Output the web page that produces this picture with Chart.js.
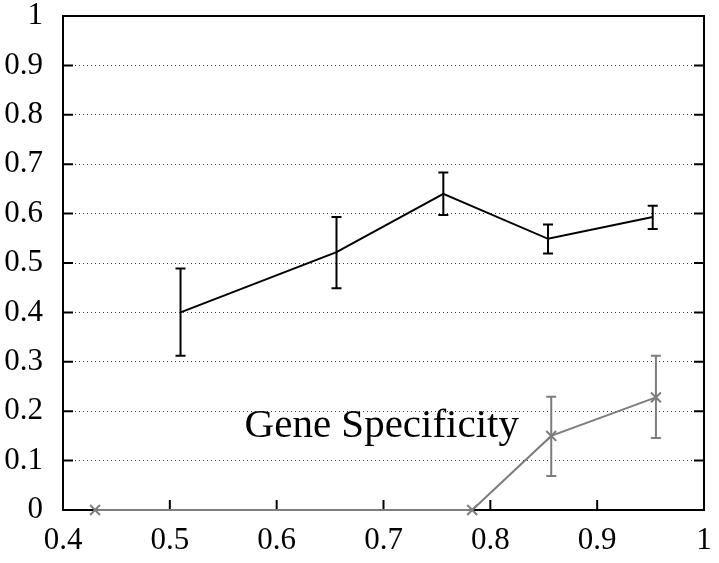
<!DOCTYPE html>
<html>
<head>
<meta charset="utf-8">
<script src="https://cdn.jsdelivr.net/npm/chart.js@4"></script>
<style>
  body { margin: 0; background: #fff; }
  canvas { display: block; }
</style>
</head>
<body>
<canvas id="chart" width="719" height="563"></canvas>
<script>
// black series
const blackX = [0.51, 0.656, 0.756, 0.854, 0.952];
const blackY = [0.40, 0.522, 0.640, 0.549, 0.593];
const blackLow = [0.312, 0.449, 0.597, 0.519, 0.569];
const blackHigh = [0.489, 0.593, 0.683, 0.578, 0.616];

// grey series (Gene Specificity)
const greyX = [0.43, 0.783, 0.857, 0.955];
const greyY = [0, 0, 0.150, 0.228];
const greyLow = [null, null, 0.069, 0.146];
const greyHigh = [null, null, 0.229, 0.312];

const seriesLabel = 'Gene Specificity';

const serif = '"Liberation Serif", "DejaVu Serif", serif';
const grey = '#7d7d7d';

const toPoints = (xs, ys) => xs.map((x, i) => ({ x: x, y: ys[i] }));
const fmt = (v) => String(Number(v.toFixed(1)));

// frame + inward ticks go under the lines, error bars and label on top
const extras = {
  id: 'extras',
  beforeDatasetsDraw(chart) {
    const ctx = chart.ctx;
    const xs = chart.scales.x;
    const ys = chart.scales.y;
    const area = chart.chartArea;
    ctx.save();
    ctx.strokeStyle = '#000';
    ctx.lineWidth = 2;
    ctx.beginPath();
    xs.ticks.forEach((t) => {
      const px = xs.getPixelForValue(t.value);
      ctx.moveTo(px, area.bottom); ctx.lineTo(px, area.bottom - 10);
    });
    ys.ticks.forEach((t) => {
      const py = ys.getPixelForValue(t.value);
      ctx.moveTo(area.left, py); ctx.lineTo(area.left + 10, py);
      ctx.moveTo(area.right, py); ctx.lineTo(area.right - 10, py);
    });
    ctx.stroke();
    ctx.strokeRect(area.left, area.top, area.right - area.left, area.bottom - area.top);
    ctx.restore();
  },
  afterDatasetsDraw(chart) {
    const ctx = chart.ctx;
    const xs = chart.scales.x;
    const ys = chart.scales.y;

    const bars = (xv, lo, hi, color) => {
      ctx.save();
      ctx.strokeStyle = color;
      ctx.lineWidth = 2;
      xv.forEach((x, i) => {
        if (lo[i] == null) return;
        const px = xs.getPixelForValue(x);
        const top = ys.getPixelForValue(hi[i]);
        const bot = ys.getPixelForValue(lo[i]);
        ctx.beginPath();
        ctx.moveTo(px, top); ctx.lineTo(px, bot);
        ctx.moveTo(px - 5, top); ctx.lineTo(px + 5, top);
        ctx.moveTo(px - 5, bot); ctx.lineTo(px + 5, bot);
        ctx.stroke();
      });
      ctx.restore();
    };
    bars(blackX, blackLow, blackHigh, '#000');
    bars(greyX, greyLow, greyHigh, grey);

    ctx.save();
    ctx.fillStyle = '#000';
    ctx.font = '41px ' + serif;
    ctx.textBaseline = 'alphabetic';
    ctx.fillText(seriesLabel, xs.getPixelForValue(0.57), ys.getPixelForValue(0.148));
    ctx.restore();
  }
};

new Chart(document.getElementById('chart'), {
  type: 'line',
  data: {
    datasets: [
      {
        label: 'black',
        data: toPoints(blackX, blackY),
        borderColor: '#000',
        borderWidth: 2,
        pointRadius: 0,
        tension: 0,
        clip: false,
      },
      {
        label: seriesLabel,
        data: toPoints(greyX, greyY),
        borderColor: grey,
        borderWidth: 2,
        pointStyle: 'crossRot',
        pointRadius: 7,
        pointBorderWidth: 2,
        pointBorderColor: grey,
        tension: 0,
        clip: false,
      },
    ],
  },
  options: {
    responsive: false,
    animation: false,
    layout: { padding: 0 },
    plugins: { legend: { display: false }, tooltip: { enabled: false } },
    scales: {
      x: {
        type: 'linear',
        min: 0.4,
        max: 1,
        ticks: {
          stepSize: 0.1,
          padding: 12,
          color: '#000',
          font: { family: serif, size: 31 },
          callback: fmt,
        },
        grid: { display: false, drawTicks: false },
        border: { display: false },
        afterFit: (s) => {
          s.height = 53;
          s.paddingLeft = 0;
          s.paddingRight = 15;
        },
      },
      y: {
        min: 0,
        max: 1,
        ticks: {
          stepSize: 0.1,
          padding: 20,
          color: '#000',
          font: { family: serif, size: 31 },
          callback: fmt,
        },
        grid: {
          drawTicks: false,
          color: '#333',
          lineWidth: 1,
        },
        border: { display: false, dash: [1, 3] },
        afterFit: (s) => {
          s.width = 63;
          s.paddingTop = 16;
          s.paddingBottom = 0;
        },
      },
    },
  },
  plugins: [extras],
});
</script>
</body>
</html>
